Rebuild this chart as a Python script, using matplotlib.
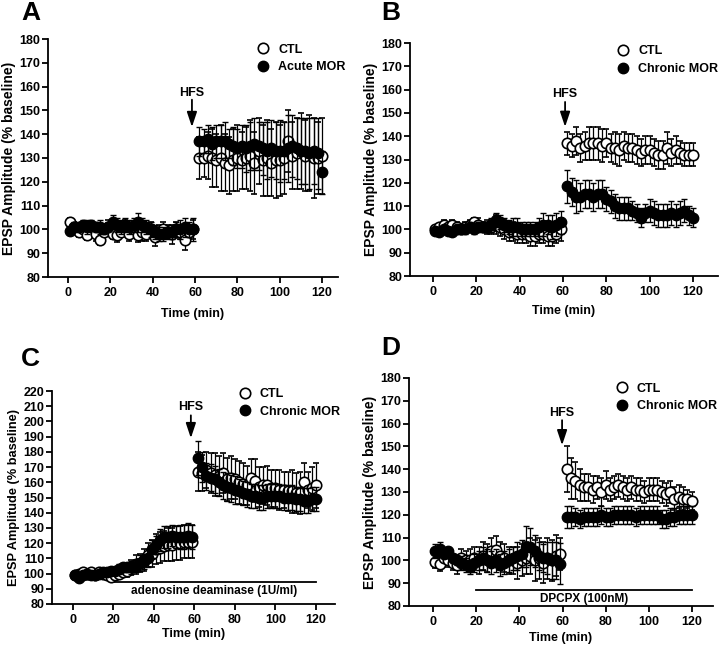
import numpy as np
import matplotlib
matplotlib.use("Agg")
import matplotlib.pyplot as plt
from matplotlib.lines import Line2D

plt.rcParams['font.family'] = ['Liberation Sans', 'DejaVu Sans']
plt.rcParams['font.weight'] = 'bold'
plt.rcParams['axes.labelweight'] = 'bold'

# ---------------- data ----------------
t_base = list(range(1, 60, 2))      # 30 baseline samples
t_post = list(range(62, 121, 2))    # 30 post-HFS samples

# Panel A
a_ctl_base = [103, 101, 99, 100, 97.5, 101, 98, 95.5, 99, 101, 98, 97.5, 99, 101, 98, 100, 97.5, 99, 98, 100, 97, 99, 100, 99, 98, 100, 99, 95.5, 99, 100]
a_ctl_base_err = [2, 2, 2, 3, 2, 2, 3, 2, 2, 3, 2, 3, 2, 3, 3, 2, 3, 4, 3, 3, 4, 3, 3, 3, 4, 3, 3, 4, 3, 4]
a_mor_base = [99.5, 101, 101, 102, 101, 102, 101, 101, 100, 101, 103, 102, 101, 102, 101, 102, 103, 102, 101, 100, 99, 98, 98, 99, 99, 100, 100, 101, 100, 100]
a_mor_base_err = [2, 2, 2, 2, 3, 2, 2, 3, 2, 2, 3, 3, 3, 3, 3, 3, 4, 3, 3, 3, 3, 3, 3, 3, 3, 3, 4, 4, 3, 5]
a_ctl_post = [130, 130, 131, 130, 129, 130, 128, 127, 129, 130, 129, 130, 131, 128, 133, 129, 130, 128, 129, 129, 130, 137, 131, 132, 133, 131, 132, 130, 130, 131]
a_ctl_post_err = [9, 8, 10, 12, 11, 14, 12, 12, 13, 14, 12, 13, 15, 13, 14, 15, 16, 14, 16, 15, 15, 13, 14, 15, 16, 15, 16, 17, 15, 16]
a_mor_post = [137, 137, 138, 136, 137, 137, 137, 136, 135, 134, 135, 134, 135, 136, 135, 134, 133, 134, 133, 133, 133, 134, 135, 134, 133, 133, 132, 133, 132, 124]
a_mor_post_err = [6, 5, 6, 7, 7, 7, 8, 6, 8, 8, 9, 10, 10, 11, 10, 11, 12, 12, 12, 13, 12, 14, 13, 13, 14, 14, 15, 14, 15, 9]

# Panel B
b_ctl_base = [100, 101, 102, 101, 102, 101, 100, 101, 102, 103, 102, 101, 101, 101, 102, 101, 100, 99, 99, 98, 98, 98, 97, 97, 98, 98, 97, 97, 98, 100]
b_ctl_base_err = [1, 1, 2, 1, 2, 2, 1, 2, 2, 2, 3, 2, 3, 3, 4, 4, 4, 4, 4, 4, 4, 4, 4, 4, 4, 4, 4, 4, 4, 5]
b_mor_base = [99.5, 99, 100, 99.5, 99, 100, 100, 100, 101, 100, 101, 101, 101, 102, 104, 103, 102, 101, 101, 101, 100, 100, 100, 100, 101, 102, 102, 101, 102, 103]
b_mor_base_err = [1, 1, 1, 1, 1, 2, 1, 2, 2, 2, 2, 2, 2, 3, 3, 3, 3, 3, 4, 4, 3, 3, 3, 3, 4, 5, 4, 5, 5, 5]
b_ctl_post = [137, 136, 138, 135, 136, 137, 137, 137, 136, 137, 135, 135, 134, 136, 135, 135, 134, 133, 134, 134, 133, 132, 132, 135, 133, 134, 133, 132, 132, 132]
b_ctl_post_err = [5, 5, 6, 6, 6, 7, 7, 7, 7, 6, 6, 7, 7, 6, 6, 6, 6, 6, 6, 6, 6, 6, 6, 7, 6, 6, 5, 5, 5, 5]
b_mor_post = [118.5, 116, 114, 114, 115, 115, 114, 115, 115, 113, 112, 110, 109, 109, 109, 108, 107, 105, 107, 108, 107, 106, 106, 106, 107, 106, 107, 108, 106, 105]
b_mor_post_err = [7, 6, 7, 6, 6, 6, 6, 6, 6, 5, 5, 5, 5, 5, 5, 4, 4, 4, 4, 5, 5, 5, 5, 5, 5, 5, 5, 5, 4, 4]

# Panel C
c_ctl_base = [99, 100, 101, 100, 101, 99, 101, 100, 99, 98, 99, 100, 101, 102, 104, 106, 107, 109, 112, 113, 116, 117, 118, 119, 119, 120, 120, 121, 121, 121]
c_ctl_base_err = [2, 2, 2, 2, 2, 2, 2, 2, 2, 3, 3, 3, 3, 4, 5, 6, 6, 7, 8, 9, 10, 10, 10, 11, 11, 11, 11, 11, 11, 11]
c_mor_base = [99, 97, 99, 100, 99, 99, 100, 101, 101, 102, 102, 103, 104, 104, 104, 105, 107, 108, 110, 116, 119, 122, 124, 124, 125, 124, 124, 124, 125, 124]
c_mor_base_err = [2, 2, 2, 2, 2, 2, 2, 2, 2, 2, 2, 3, 3, 3, 4, 4, 5, 5, 6, 6, 6, 7, 7, 7, 7, 7, 8, 8, 8, 8]
c_ctl_post = [167, 166, 168, 166, 165, 164, 166, 162, 163, 162, 160, 159, 158, 163, 161, 157, 158, 158, 156, 156, 155, 155, 154, 154, 153, 153, 160, 155, 156, 158]
c_ctl_post_err = [13, 12, 12, 13, 14, 13, 13, 14, 14, 13, 14, 14, 13, 12, 14, 13, 12, 13, 12, 12, 13, 12, 13, 14, 13, 14, 13, 12, 14, 15]
c_mor_post = [176, 170, 164, 163, 162, 160, 158, 157, 156, 155, 154, 153, 152, 151, 151, 150, 150, 151, 151, 151, 151, 150, 150, 150, 149, 149, 148, 148, 149, 149]
c_mor_post_err = [11, 10, 9, 9, 9, 9, 9, 9, 9, 9, 8, 8, 8, 8, 8, 8, 8, 8, 8, 8, 8, 8, 8, 8, 8, 8, 8, 8, 8, 8]

# Panel D
d_ctl_base = [99.5, 98.5, 101, 100, 99, 98, 101, 100, 100, 101, 100, 102, 101, 104, 104.5, 102, 101, 100, 100, 99, 100, 101, 102, 100, 101, 99, 101, 100, 102, 103]
d_ctl_base_err = [3, 3, 3, 3, 3, 4, 4, 4, 5, 5, 6, 6, 6, 6, 6, 6, 6, 6, 6, 7, 7, 7, 8, 9, 9, 9, 9, 9, 9, 7]
d_mor_base = [104, 105, 103, 104, 101, 100, 99, 98, 97, 99, 100, 101, 100, 99, 100, 98, 99, 100, 101, 102, 103, 106, 106, 104, 102, 101, 101, 100, 100, 98.5]
d_mor_base_err = [3, 3, 2, 2, 2, 2, 3, 3, 3, 4, 4, 5, 5, 5, 5, 5, 5, 5, 5, 6, 6, 9, 8, 7, 6, 6, 7, 8, 8, 9]
d_ctl_post = [140, 136, 135, 133, 132, 132, 131, 132, 130, 133, 131, 132, 133, 132, 131, 132, 131, 131, 130, 131, 131, 131, 130, 129, 130, 127, 128, 127, 127, 126]
d_ctl_post_err = [10, 9, 8, 7, 6, 6, 6, 5, 6, 6, 5, 5, 5, 5, 5, 5, 5, 5, 5, 5, 5, 5, 5, 5, 5, 5, 5, 5, 4, 4]
d_mor_post = [119, 119, 119, 118, 119, 119, 119, 119, 120, 119, 119, 120, 120, 120, 120, 120, 119, 120, 120, 120, 120, 120, 118, 118, 119, 119, 120, 120, 120, 120]
d_mor_post_err = [5, 5, 4, 4, 4, 4, 4, 4, 4, 4, 4, 4, 4, 4, 4, 4, 4, 4, 4, 4, 4, 4, 4, 4, 4, 4, 4, 4, 4, 4]

panels = [
    dict(letter='A', label2='Acute MOR', ylim=(80, 180), yticks=list(range(80, 181, 10)), xlim=(-9.5, 127.5),
         rect=[48/720, 1-277/646, 290/720, 238/646],
         ctl=(a_ctl_base, a_ctl_base_err, a_ctl_post, a_ctl_post_err),
         mor=(a_mor_base, a_mor_base_err, a_mor_post, a_mor_post_err),
         hfs=(58.5, 143, 154.5, 157.3), drug=None, letterpos=(21/720, 1-20/646),
         leg=(0.716, 0.98), ylsize=10, xlpad=7),
    dict(letter='B', label2='Chronic MOR', ylim=(80, 180), yticks=list(range(80, 181, 10)), xlim=(-10.5, 131.5),
         rect=[410/720, 1-276/646, 308/720, 233/646],
         ctl=(b_ctl_base, b_ctl_base_err, b_ctl_post, b_ctl_post_err),
         mor=(b_mor_base, b_mor_base_err, b_mor_post, b_mor_post_err),
         hfs=(61, 144, 154.7, 158.2), drug=None, letterpos=(381/720, 1-20/646),
         leg=(0.668, 0.99), ylsize=10, xlpad=5),
    dict(letter='C', label2='Chronic MOR', ylim=(80, 220), yticks=list(range(80, 221, 10)), xlim=(-10.2, 129.4),
         rect=[52/720, 1-604/646, 283/720, 213/646],
         ctl=(c_ctl_base, c_ctl_base_err, c_ctl_post, c_ctl_post_err),
         mor=(c_mor_base, c_mor_base_err, c_mor_post, c_mor_post_err),
         hfs=(58.3, 189, 204, 209.5), drug=('adenosine deaminase (1U/ml)', 94.5, 88.5), letterpos=(21/720, 1-366/646),
         leg=(0.655, 1.014), ylsize=9.2, xlpad=2),
    dict(letter='D', label2='Chronic MOR', ylim=(80, 180), yticks=list(range(80, 181, 10)), xlim=(-11.3, 129.9),
         rect=[409/720, 1-606/646, 304/720, 228/646],
         ctl=(d_ctl_base, d_ctl_base_err, d_ctl_post, d_ctl_post_err),
         mor=(d_mor_base, d_mor_base_err, d_mor_post, d_mor_post_err),
         hfs=(59.8, 150.5, 161.5, 164.8), drug=('DPCPX (100nM)', 87.2, 83.0), letterpos=(381/720, 1-355/646),
         leg=(0.675, 0.98), ylsize=10, xlpad=3),
]

fig = plt.figure(figsize=(7.2, 6.46), dpi=100)
FS = 9

for p in panels:
    ax = fig.add_axes(p['rect'])
    t_all = t_base + t_post
    ctl_y = p['ctl'][0] + p['ctl'][2]
    ctl_e = p['ctl'][1] + p['ctl'][3]
    mor_y = p['mor'][0] + p['mor'][2]
    mor_e = p['mor'][1] + p['mor'][3]
    ax.errorbar(t_all, ctl_y, yerr=ctl_e, fmt='o', ms=7.5, mfc='white', mec='black', mew=1.2,
                ecolor='black', elinewidth=0.9, capsize=2.5, capthick=0.9, zorder=3)
    ax.errorbar(t_all, mor_y, yerr=mor_e, fmt='o', ms=7.5, mfc='black', mec='black', mew=1.0,
                ecolor='black', elinewidth=0.9, capsize=2.5, capthick=0.9, zorder=4)
    ax.set_xlim(*p['xlim'])
    ax.set_ylim(*p['ylim'])
    ax.set_yticks(p['yticks'])
    ax.set_xticks([0, 20, 40, 60, 80, 100, 120])
    for s in ['top', 'right']:
        ax.spines[s].set_visible(False)
    for s in ['left', 'bottom']:
        ax.spines[s].set_linewidth(1.3)
    ax.tick_params(direction='out', length=4, width=1.3, labelsize=FS)
    ax.tick_params(axis='y', pad=1.5)
    ax.tick_params(axis='x', pad=3)
    for lab in ax.get_xticklabels() + ax.get_yticklabels():
        lab.set_fontweight('bold')
    ax.set_xlabel('Time (min)', fontsize=FS, fontweight='bold', labelpad=p['xlpad'])
    ax.set_ylabel('EPSP Amplitude (% baseline)', fontsize=p['ylsize'], fontweight='bold', labelpad=2)

    hx, tip, start, ty = p['hfs']
    ax.annotate('', xy=(hx, tip), xytext=(hx, start),
                arrowprops=dict(arrowstyle='-|>,head_length=0.9,head_width=0.3', color='black', lw=1.3,
                                shrinkA=0, shrinkB=0))
    ax.text(hx, ty, 'HFS', ha='center', va='center', fontsize=FS, fontweight='bold')

    if p['drug'] is not None:
        txt, ly, tyy = p['drug']
        ax.plot([20, 120], [ly, ly], color='black', lw=1.3, clip_on=False)
        ax.text(70, tyy, txt, ha='center', va='center', fontsize=8.5, fontweight='bold')

    handles = [Line2D([], [], marker='o', ls='', ms=7.5, mfc='white', mec='black', mew=1.2),
               Line2D([], [], marker='o', ls='', ms=7.5, mfc='black', mec='black')]
    ax.legend(handles, ['CTL', p['label2']], loc='upper left', bbox_to_anchor=p['leg'],
              frameon=False, handletextpad=0.6, labelspacing=0.45, borderaxespad=0, borderpad=0,
              prop=dict(size=FS, weight='bold'), handlelength=1.2)

    fig.text(p['letterpos'][0], p['letterpos'][1], p['letter'], fontsize=19, fontweight='bold',
             ha='left', va='baseline')

fig.savefig('out.png', dpi=100)
